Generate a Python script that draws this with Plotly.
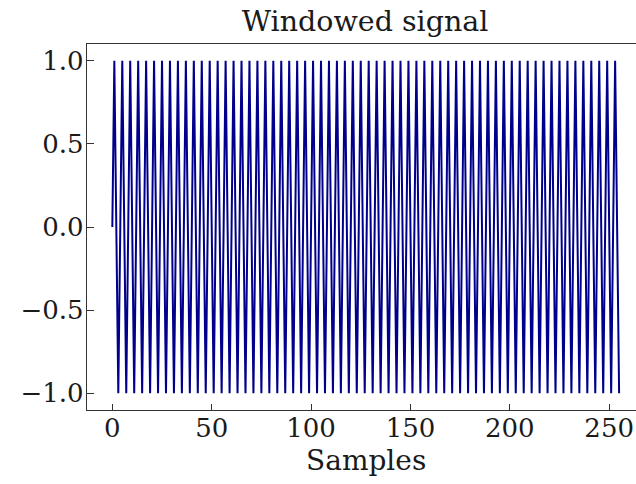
import plotly.graph_objects as go

# Samples 0..255 of the windowed signal (period of 4 samples, amplitude 1)
samples = list(range(256))
signal_values = [
    0, 1, 0, -1, 0, 1, 0, -1, 0, 1, 0, -1, 0, 1, 0, -1,
    0, 1, 0, -1, 0, 1, 0, -1, 0, 1, 0, -1, 0, 1, 0, -1,
    0, 1, 0, -1, 0, 1, 0, -1, 0, 1, 0, -1, 0, 1, 0, -1,
    0, 1, 0, -1, 0, 1, 0, -1, 0, 1, 0, -1, 0, 1, 0, -1,
    0, 1, 0, -1, 0, 1, 0, -1, 0, 1, 0, -1, 0, 1, 0, -1,
    0, 1, 0, -1, 0, 1, 0, -1, 0, 1, 0, -1, 0, 1, 0, -1,
    0, 1, 0, -1, 0, 1, 0, -1, 0, 1, 0, -1, 0, 1, 0, -1,
    0, 1, 0, -1, 0, 1, 0, -1, 0, 1, 0, -1, 0, 1, 0, -1,
    0, 1, 0, -1, 0, 1, 0, -1, 0, 1, 0, -1, 0, 1, 0, -1,
    0, 1, 0, -1, 0, 1, 0, -1, 0, 1, 0, -1, 0, 1, 0, -1,
    0, 1, 0, -1, 0, 1, 0, -1, 0, 1, 0, -1, 0, 1, 0, -1,
    0, 1, 0, -1, 0, 1, 0, -1, 0, 1, 0, -1, 0, 1, 0, -1,
    0, 1, 0, -1, 0, 1, 0, -1, 0, 1, 0, -1, 0, 1, 0, -1,
    0, 1, 0, -1, 0, 1, 0, -1, 0, 1, 0, -1, 0, 1, 0, -1,
    0, 1, 0, -1, 0, 1, 0, -1, 0, 1, 0, -1, 0, 1, 0, -1,
    0, 1, 0, -1, 0, 1, 0, -1, 0, 1, 0, -1, 0, 1, 0, -1,
]
x_ticks = [0, 50, 100, 150, 200, 250]
y_ticks = [-1.0, -0.5, 0.0, 0.5, 1.0]
y_tick_labels = ["\u22121.0", "\u22120.5", "0.0", "0.5", "1.0"]

FONT = "DejaVu Serif"
TXT = "#1a1a1a"

fig = go.Figure()
fig.add_trace(go.Scatter(
    x=samples, y=signal_values, mode="lines",
    line=dict(color="#00008B", width=2),
    showlegend=False, hoverinfo="skip",
))

fig.update_layout(
    width=636, height=484,
    margin=dict(l=87, r=0, t=44, b=74),
    paper_bgcolor="white", plot_bgcolor="white",
    font=dict(family=FONT, size=26, color=TXT),
    title=dict(text="Windowed signal", x=0.574, xref="container", xanchor="center",
               y=0.935, yref="container", yanchor="bottom",
               font=dict(family=FONT, size=28.5, color=TXT)),
    xaxis=dict(
        range=[-12.75, 263.5], tickvals=x_ticks, ticktext=[str(v) for v in x_ticks],
        ticks="inside", ticklen=6, tickwidth=1.2, tickcolor="#333",
        showline=True, linecolor="#333", linewidth=1.3, mirror=True,
        showgrid=False, zeroline=False, automargin=False,
        ticklabelstandoff=-5,
        tickfont=dict(family=FONT, size=26, color=TXT),
    ),
    yaxis=dict(
        range=[-1.1, 1.1], tickvals=y_ticks, ticktext=y_tick_labels,
        ticks="inside", ticklen=7, tickwidth=1.2, tickcolor="#333",
        showline=True, linecolor="#333", linewidth=1.3, mirror=False,
        showgrid=False, zeroline=False, automargin=False,
        ticklabelstandoff=-3,
        tickfont=dict(family=FONT, size=26, color=TXT),
    ),
    annotations=[dict(
        text="Samples", x=127.5, xref="x", y=-0.088, yref="paper",
        xanchor="center", yanchor="top", showarrow=False,
        font=dict(family=FONT, size=28, color=TXT),
    )],
)

fig.write_html("out.html", config={"displayModeBar": False},
               post_script="document.body.style.margin='0';document.body.style.overflow='hidden';")
